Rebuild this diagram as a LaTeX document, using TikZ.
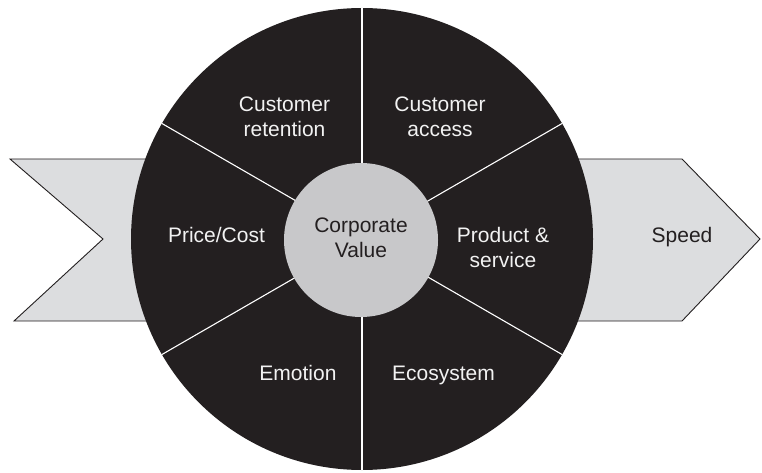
\documentclass[tikz,border=0pt]{standalone}
\usepackage{fontspec}
\setmainfont{Liberation Sans}
\definecolor{disc}{HTML}{231F20}
\definecolor{bandgray}{HTML}{DCDDDF}
\definecolor{hubgray}{HTML}{C8C8CA}
\definecolor{softwhite}{HTML}{F2F2F2}
\begin{document}
\begin{tikzpicture}[x=1pt,y=-1pt,
  lbl/.style={text=softwhite, align=center, inner sep=0pt, anchor=base,
    font=\fontsize{21}{25}\selectfont},
  darklbl/.style={lbl, text=disc},
  band/.style={fill=bandgray, draw=disc, line width=0.9pt, line join=miter},
  spoke/.style={draw=white, line width=1.1pt}]
\useasboundingbox[fill=white] (0,0) rectangle (762,473);

% incoming and outgoing bands behind the wheel
\filldraw[band] (300,159) -- (10,159) -- (103,239) -- (14,321) -- (300,321) -- cycle;
\filldraw[band] (420,159) -- (682,159) -- (760,239) -- (682,321) -- (420,321) -- cycle;

% the wheel
\coordinate (c) at (362,239);
\fill[disc] (c) circle[radius=231];
\foreach \a in {90,30,-30,-90,-150,150}
  \draw[spoke] (c) -- ++({231*cos(\a)},{-231*sin(\a)});
\node[circle, fill=hubgray, minimum size=154pt, inner sep=0pt] (hub) at (361,240) {};

% labels (two-line labels are placed by the baseline of their last line)
\node[darklbl] (corp) at (361,257) {Corporate\\Value};
\node[lbl] (retention) at (284.5,137) {Customer\\retention};
\node[lbl] (access) at (440,137) {Customer\\access};
\node[lbl] (price) at (216.5,242) {Price/Cost};
\node[lbl] (product) at (503,267) {Product \&\\service};
\node[lbl] (emotion) at (298,380) {Emotion};
\node[lbl] (eco) at (443.5,380) {Ecosystem};
\node[darklbl] (speed) at (682,242) {Speed};
\end{tikzpicture}
\end{document}
